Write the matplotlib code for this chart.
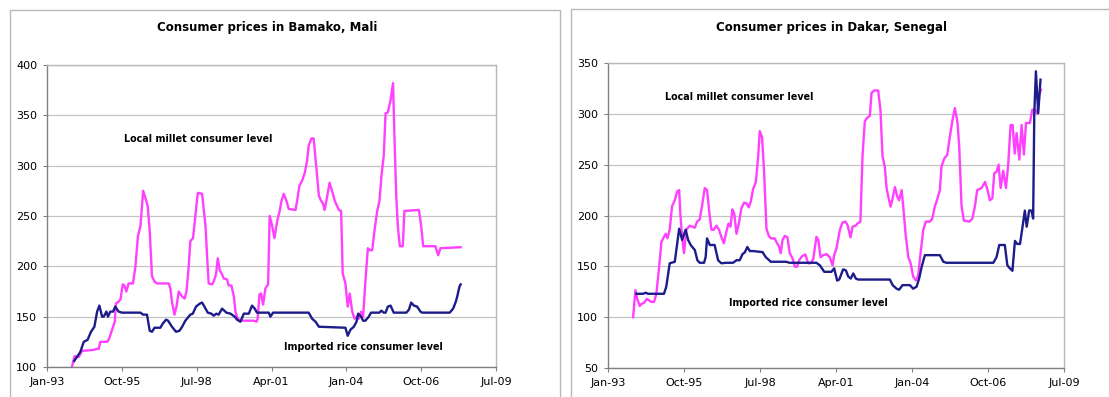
import matplotlib
matplotlib.use("Agg")
import matplotlib.pyplot as plt
from matplotlib.patches import Rectangle

# Months are counted from January 1993 (0 = Jan-93)
tick_months = [0, 33, 66, 99, 132, 165, 198]
tick_labels = ["Jan-93", "Oct-95", "Jul-98", "Apr-01", "Jan-04", "Oct-06", "Jul-09"]

# ---- Bamako, Mali ----
bamako_millet_month = [
    11.0, 12.1, 14.0, 15.4, 20.6, 21.8, 22.8, 23.5, 26.5, 27.2, 28.7, 29.9, 30.4, 31.6,
    32.4, 33.4, 34.1, 35.0, 36.0, 37.9, 39.0, 40.1, 41.2, 42.4, 43.4, 44.4, 45.3, 46.3,
    47.4, 48.5, 53.7, 54.4, 55.1, 56.2, 57.1, 58.1, 59.6, 60.7, 61.5, 62.5, 63.2, 64.4,
    65.4, 66.5, 68.4, 69.9, 70.6, 71.3, 72.8, 73.5, 74.3, 74.7, 75.3, 76.2, 77.2, 77.9,
    79.4, 80.1, 81.3, 82.4, 83.1, 84.1, 85.3, 91.2, 92.4, 92.9, 93.7, 94.4, 95.3, 96.3,
    97.5, 98.2, 99.3, 100.3, 101.5, 102.6, 103.4, 104.4, 105.6, 106.6, 109.6, 110.3,
    111.3, 112.5, 113.7, 114.7, 115.4, 116.6, 117.6, 118.7, 119.9, 120.9, 121.6, 122.4,
    123.2, 124.6, 125.7, 126.9, 127.9, 128.7, 129.7, 130.4, 131.6, 132.6, 133.5, 134.6,
    135.6, 136.8, 137.5, 138.5, 139.4, 140.4, 141.5, 142.4, 143.4, 144.4, 145.6, 146.6,
    147.5, 148.5, 149.3, 150.3, 151.5, 152.6, 153.2, 154.0, 154.7, 155.6, 156.9, 157.6,
    164.0, 165.0, 165.9, 171.3, 172.5, 173.5, 182.4,
]
bamako_millet = [
    100, 110.6, 110, 116, 117, 118, 118, 125, 125, 127, 137, 145, 163, 165,
    167, 182, 181, 175, 183, 183, 200, 230, 240, 275, 268, 260, 235, 190,
    185, 183, 183, 178, 165, 152, 160, 175, 170, 168, 175, 200, 225, 228,
    250, 273, 272, 240, 210, 183, 182, 185, 190, 195, 208, 196, 192, 188,
    187, 181, 181, 170, 155, 148, 146, 146, 145, 148, 172, 173, 162, 178,
    182, 250, 240, 228, 245, 255, 265, 272, 265, 257, 256, 265,
    280, 285, 293, 305, 320, 327, 327, 300, 270, 265, 263, 256,
    265, 283, 275, 265, 260, 256, 255, 193, 183, 160, 173, 155,
    148, 150, 148, 155, 150, 185, 218, 216, 216, 235, 255, 265,
    290, 310, 352, 353, 365, 382, 330, 270, 240, 220, 220, 255,
    256, 240, 220, 220, 211, 218, 219,
]

bamako_rice_month = [
    12.0, 13.2, 14.7, 16.2, 17.9, 19.4, 20.9, 22.1, 23.1, 24.3, 25.0, 26.2, 26.9, 27.9,
    29.1, 30.1, 31.6, 33.1, 41.2, 42.4, 44.1, 45.3, 46.3, 47.4, 50.0, 51.0, 52.5, 53.4,
    55.1, 56.9, 58.4, 59.6, 61.0, 63.2, 64.3, 65.7, 67.4, 68.4, 69.9, 70.9, 72.5, 73.5,
    74.7, 75.7, 77.2, 79.1, 80.9, 82.8, 83.8, 85.3, 86.8, 89.0, 90.4, 91.6, 92.6, 97.8,
    98.5, 99.7, 115.4, 116.9, 118.4, 119.9, 131.6, 132.6, 133.8, 135.3, 136.5, 137.2,
    138.5, 139.4, 140.4, 141.9, 142.9, 146.6, 147.4, 148.5, 149.3, 150.3, 151.5, 152.9,
    158.5, 159.6, 160.6, 161.8, 163.2, 164.7, 165.4, 177.6, 179.1, 180.3, 180.9, 181.9,
    182.4,
]
bamako_rice = [
    106, 110, 115, 125, 127, 135, 140, 155, 161, 150, 150, 155, 150, 155,
    155, 160, 155, 154, 154, 152, 152, 136, 135, 139, 139, 143, 147, 146,
    140, 135, 136, 140, 146, 152, 153, 160, 163, 164, 158, 154, 153, 151,
    153, 152, 158, 154, 153, 150, 147, 145, 153, 153, 161, 158, 154, 154,
    150, 154, 154, 148, 145, 140, 139, 131, 137, 140, 145, 153,
    150, 146, 146, 150, 154, 154, 156, 154, 154, 160, 161, 154,
    154, 157, 164, 161, 160, 155, 154, 154, 158, 165, 170, 180,
    182,
]

# ---- Dakar, Senegal ----
dakar_millet_month = [
    10.9, 11.9, 12.7, 13.8, 14.5, 15.6, 16.9, 18.8, 20.0, 21.0, 22.2, 23.2, 24.3, 25.1,
    25.8, 26.8, 27.8, 29.0, 30.0, 30.9, 31.4, 32.3, 33.0, 34.0, 35.5, 36.6, 37.7, 38.7,
    39.8, 40.8, 42.0, 43.0, 43.9, 44.9, 45.9, 47.1, 48.2, 49.2, 50.3, 51.4, 52.3, 53.2,
    54.0, 54.8, 55.8, 56.8, 57.9, 59.1, 60.1, 61.1, 62.0, 63.0, 64.2, 65.2, 65.9, 66.9,
    67.8, 68.8, 69.8, 70.7, 72.4, 73.4, 74.2, 75.0, 75.8, 76.8, 77.9, 78.9, 80.1, 81.1,
    82.1, 83.0, 84.3, 85.7, 86.9, 87.9, 89.1, 90.5, 91.3, 92.3, 93.4, 94.9, 96.3, 97.5,
    98.2, 99.2, 100.7, 101.8, 103.1, 104.0, 105.3, 106.2, 107.5, 108.3, 109.6, 110.5,
    111.5, 112.5, 113.7, 114.4, 115.6, 117.3, 118.3, 119.2, 120.2, 120.9, 121.7, 122.7,
    123.4, 124.6, 125.6, 126.4, 127.5, 128.2, 129.2, 130.4, 131.4, 132.5, 133.7, 134.7,
    135.7, 136.9, 138.0, 139.8, 140.8, 141.9, 143.1, 144.1, 144.8, 146.0, 147.3, 148.2,
    149.6, 150.6, 151.7, 152.5, 153.5, 154.5, 156.9, 158.2, 159.3, 160.3, 162.2, 163.7,
    164.8, 165.8, 166.9, 167.7, 168.7, 169.6, 170.5, 171.6, 172.8, 173.8, 174.8, 175.7,
    176.6, 177.4, 178.6, 179.6, 180.6, 181.5, 183.2, 184.2, 185.4, 186.4, 187.3, 188.0,
]
dakar_millet = [
    100, 126.6, 118, 111, 113, 114, 118, 115, 115, 123, 149.6, 174, 179, 182,
    177.5, 186, 209, 215, 223.5, 225, 202, 176, 163, 186, 190, 189, 188, 194,
    196, 209, 227, 225, 205, 186, 186, 190, 186, 179, 172.6, 184, 192, 189,
    206, 202, 182, 192, 207, 212.7, 212, 208, 213.6, 226, 233, 258, 283, 277,
    241.6, 187, 180, 177.5, 177.5, 172.6, 170, 163, 176, 180, 178.5, 163, 158, 149.6,
    149.6, 156, 160, 161.7, 153, 153, 157, 179, 176, 159, 161, 162, 159, 151,
    161, 167.6, 186, 193, 194, 190.6, 178.5, 189, 190, 192, 194, 258,
    292.5, 296, 298, 320.5, 323, 323, 304, 258, 248, 228, 218.6, 208.7,
    215, 228, 218.6, 215, 225, 208.7, 182, 159, 153, 140, 136, 141,
    162.7, 186, 194, 194, 197, 208.7, 217, 225, 248, 256, 259.7, 274,
    294, 305.7, 292.5, 268, 210, 195, 194, 197, 208.7, 225, 227, 233,
    225, 215, 217, 241.6, 243, 250, 227, 244, 227, 251, 289, 289,
    261, 281, 255, 289, 260, 291, 291, 304, 304, 300, 319, 323.7,
]

dakar_rice_month = [
    12.3, 15.2, 16.4, 17.4, 24.3, 25.3, 26.8, 29.0, 30.9, 32.2, 33.7, 34.8, 35.9, 37.7,
    38.8, 39.8, 41.7, 42.4, 43.0, 44.2, 46.3, 47.8, 49.2, 51.4, 54.3, 55.8, 57.2, 58.4,
    59.4, 60.5, 61.6, 63.0, 67.1, 68.5, 69.5, 70.7, 77.2, 78.9, 90.5, 92.0, 93.9, 97.0,
    98.2, 99.5, 100.4, 102.1, 103.3, 104.3, 105.4, 106.5, 107.6, 108.6, 122.4, 123.6,
    125.3, 126.4, 127.9, 131.1, 132.5, 134.0, 135.1, 136.2, 137.6, 144.1, 145.6, 147.0,
    167.3, 168.7, 169.9, 172.3, 173.4, 174.5, 175.6, 176.7, 177.7, 178.9, 180.0, 181.0,
    181.8, 182.9, 183.9, 184.6, 185.1, 185.8, 186.8, 187.8,
]
dakar_rice = [
    123, 123, 124, 123, 123, 130, 153, 154.5, 187, 176, 186, 176, 171, 166,
    156, 153.5, 153.5, 159, 177.5, 171, 171, 156, 153, 153.5, 153.5, 156, 156, 162,
    163.7, 169, 165, 165, 164, 159, 157, 154.5, 154.5, 153.5, 153.5, 151, 144.6, 144.6,
    148, 136, 137, 147, 146, 140, 138, 143, 138, 137, 137, 131.5,
    128, 127, 131.5, 131.5, 128, 130, 138, 149.6, 161, 161, 154.5, 153.5,
    153.5, 159, 171, 171, 151, 148, 145.6, 175, 172, 172, 189, 204.8,
    189, 205, 204.8, 197, 300.7, 341.8, 300.7, 333.6,
]

MILLET_COLOR = "#ff40ff"
RICE_COLOR = "#1c1c8a"
GRID_COLOR = "#c4c4c4"
AXIS_COLOR = "#808080"
FRAME_COLOR = "#b8b8b8"

fig = plt.figure(figsize=(11.09, 3.97), dpi=100)

# Chart-area frames around each panel
fig.patches.append(Rectangle((10 / 1109, -0.05), 550 / 1109, 1 - 9.5 / 397 + 0.05,
                             transform=fig.transFigure, fill=False,
                             edgecolor=FRAME_COLOR, linewidth=1.0))
fig.patches.append(Rectangle((570.5 / 1109, -0.05), 0.6, 1 - 8.5 / 397 + 0.05,
                             transform=fig.transFigure, fill=False,
                             edgecolor=FRAME_COLOR, linewidth=1.0))

panels = [
    dict(rect=[47 / 1109, 1 - 367 / 397, 449 / 1109, 302 / 397],
         title="Consumer prices in Bamako, Mali", title_xy=(267 / 1109, 1 - 28 / 397),
         ylim=(100, 400), yticks=range(100, 401, 50),
         millet=(bamako_millet_month, bamako_millet),
         rice=(bamako_rice_month, bamako_rice),
         millet_label=(33.8, 326.4), rice_label=(104.4, 119.9)),
    dict(rect=[608 / 1109, 1 - 368 / 397, 456 / 1109, 305 / 397],
         title="Consumer prices in Dakar, Senegal", title_xy=(831 / 1109, 1 - 28 / 397),
         ylim=(50, 350), yticks=range(50, 351, 50),
         millet=(dakar_millet_month, dakar_millet),
         rice=(dakar_rice_month, dakar_rice),
         millet_label=(24.9, 316.2), rice_label=(52.6, 114.0)),
]

for p in panels:
    ax = fig.add_axes(p["rect"])
    ax.plot(*p["millet"], color=MILLET_COLOR, linewidth=1.7, solid_joinstyle="round")
    ax.plot(*p["rice"], color=RICE_COLOR, linewidth=1.7, solid_joinstyle="round")
    ax.set_xlim(tick_months[0], tick_months[-1])
    ax.set_ylim(*p["ylim"])
    ax.set_xticks(tick_months)
    ax.set_xticklabels(tick_labels)
    ax.set_yticks(list(p["yticks"]))
    ax.grid(axis="y", color=GRID_COLOR, linewidth=0.9)
    ax.set_axisbelow(True)
    for side in ("top", "right"):
        ax.spines[side].set_color(FRAME_COLOR)
        ax.spines[side].set_linewidth(1.0)
    for side in ("left", "bottom"):
        ax.spines[side].set_color(AXIS_COLOR)
        ax.spines[side].set_linewidth(1.0)
    ax.tick_params(axis="both", colors=AXIS_COLOR, labelcolor="black",
                   labelsize=8, length=3, width=0.8, direction="out", pad=4)
    ax.text(*p["millet_label"], "Local millet consumer level", fontsize=6.9,
            fontweight="bold", ha="left", va="center")
    ax.text(*p["rice_label"], "Imported rice consumer level", fontsize=6.9,
            fontweight="bold", ha="left", va="center")
    fig.text(*p["title_xy"], p["title"], fontsize=8.5, fontweight="bold",
             ha="center", va="center")

fig.savefig("out.png", dpi=100)
